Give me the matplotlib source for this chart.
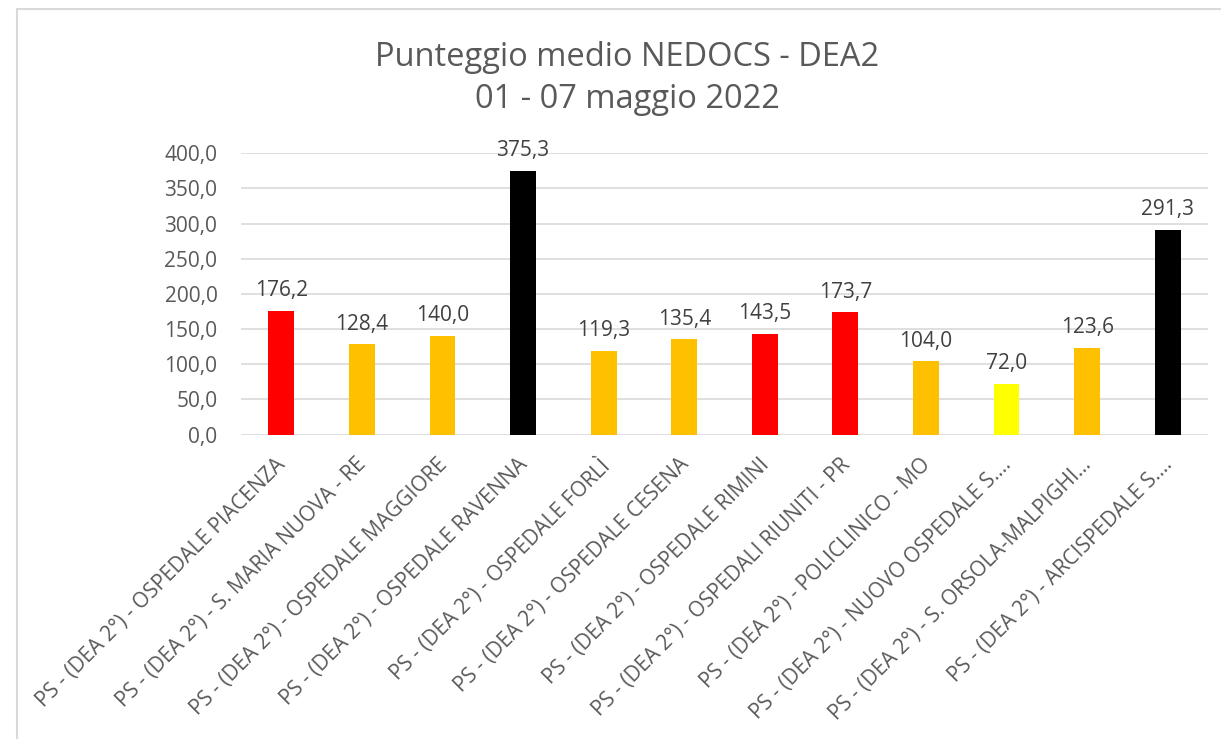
import matplotlib.pyplot as plt
from matplotlib.patches import Rectangle
from matplotlib.transforms import ScaledTranslation

labels = [
    "PS - (DEA 2°) - OSPEDALE PIACENZA",
    "PS - (DEA 2°) - S. MARIA NUOVA - RE",
    "PS - (DEA 2°) - OSPEDALE MAGGIORE",
    "PS - (DEA 2°) - OSPEDALE RAVENNA",
    "PS - (DEA 2°) - OSPEDALE FORLÌ",
    "PS - (DEA 2°) - OSPEDALE CESENA",
    "PS - (DEA 2°) - OSPEDALE RIMINI",
    "PS - (DEA 2°) - OSPEDALI RIUNITI - PR",
    "PS - (DEA 2°) - POLICLINICO - MO",
    "PS - (DEA 2°) - NUOVO OSPEDALE S.…",
    "PS - (DEA 2°) - S. ORSOLA-MALPIGHI…",
    "PS - (DEA 2°) - ARCISPEDALE S.…",
]
values = [176.2, 128.4, 140.0, 375.3, 119.3, 135.4, 143.5, 173.7, 104.0, 72.0, 123.6, 291.3]
colors = ["#FF0000", "#FFC000", "#FFC000", "#000000", "#FFC000", "#FFC000",
          "#FF0000", "#FF0000", "#FFC000", "#FFFF00", "#FFC000", "#000000"]

txt = "#595959"
plt.rcParams['font.family'] = ['Open Sans', 'DejaVu Sans']

fig = plt.figure(figsize=(12.21, 7.39), dpi=100)
# chart border (runs off the right/bottom edge like the screenshot)
fig.patches.append(Rectangle((17 / 1221, -0.1), 1.2, 1 - 9 / 739 + 0.1,
                             transform=fig.transFigure, fill=False,
                             edgecolor="#D9D9D9", linewidth=1.5))

ax = fig.add_axes([241 / 1221, 1 - 434.5 / 739, 967 / 1221, (434.5 - 153.3) / 739])
x = range(len(values))
ax.bar(x, values, width=0.32, color=colors, zorder=3)
for i, v in enumerate(values):
    ax.annotate(f"{v:.1f}".replace(".", ","), (i, v), xytext=(0, 7),
                textcoords="offset points", ha="center", va="bottom",
                fontsize=15, color="#404040")

ax.set_ylim(0, 400)
ax.set_xlim(-0.5, len(values) - 0.5)
ax.set_yticks(range(0, 401, 50))
ax.set_yticklabels([f"{t},0" for t in range(0, 401, 50)], fontsize=15, color=txt)
ax.yaxis.grid(True, color="#D9D9D9", linewidth=1.2, zorder=0)
ax.set_axisbelow(True)
ax.tick_params(axis="y", length=0, pad=17)
ax.set_xticks(list(x))
ax.set_xticklabels(labels, rotation=45, ha="right", rotation_mode="anchor",
                   fontsize=15, color=txt)
ax.tick_params(axis="x", length=0, pad=14)
# nudge the rotated labels a bit to the left
shift = ScaledTranslation(-6 / 100, 0, fig.dpi_scale_trans)
for lab in ax.get_xticklabels():
    lab.set_transform(lab.get_transform() + shift)
for s in ax.spines.values():
    s.set_visible(False)

fig.text(627 / 1221, 1 - 57 / 739, "Punteggio medio NEDOCS - DEA2", ha="center", va="center",
         fontsize=23.5, color=txt)
fig.text(627 / 1221, 1 - 100 / 739, "01 - 07 maggio 2022", ha="center", va="center",
         fontsize=23.5, color=txt)

fig.savefig("out.png", dpi=100)
